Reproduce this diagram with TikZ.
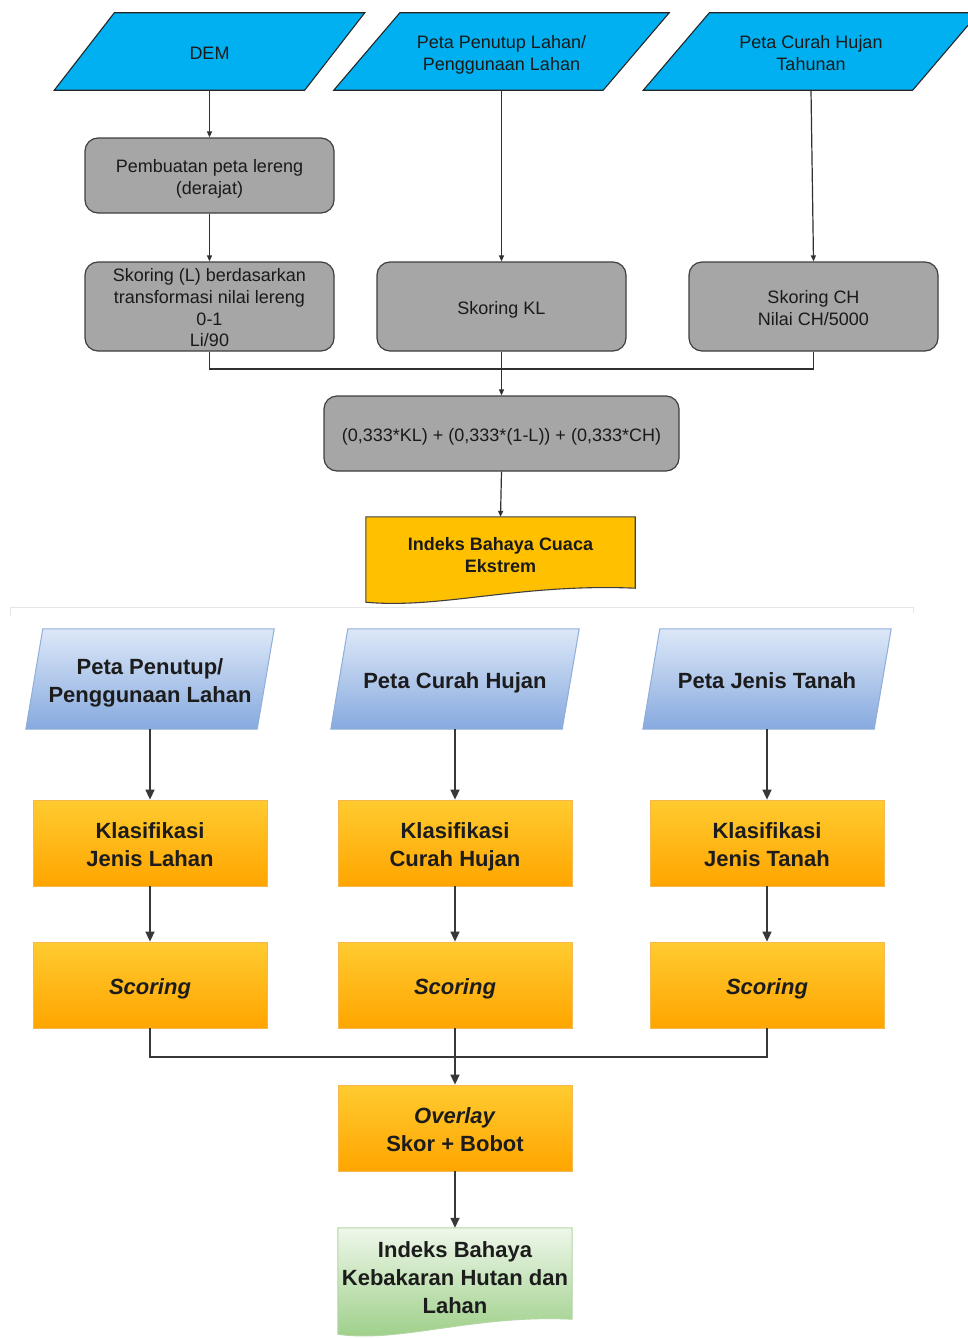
\documentclass[tikz,border=0pt]{standalone}
\usepackage{fontspec}
\setmainfont{Liberation Sans}
\usetikzlibrary{calc,arrows.meta,backgrounds}

% palette
\definecolor{inputcyan}{HTML}{00B0F0}
\definecolor{edgedark}{HTML}{262626}
\definecolor{procgray}{HTML}{A6A6A6}
\definecolor{procedge}{HTML}{3F3F3F}
\definecolor{outyellow}{HTML}{FFC000}
\definecolor{inktop}{HTML}{1A1A1A}
\definecolor{wiretop}{HTML}{303030}
\definecolor{bluetop}{HTML}{DDE8F8}
\definecolor{bluebot}{HTML}{86A9DE}
\definecolor{blueedge}{HTML}{8FAEDB}
\definecolor{orangetop}{HTML}{FFCB30}
\definecolor{orangebot}{HTML}{FFA500}
\definecolor{orangeedge}{HTML}{F5B84C}
\definecolor{greentop}{HTML}{EEF7EA}
\definecolor{greenbot}{HTML}{9ACD84}
\definecolor{greenedge}{HTML}{B3D6A4}
\definecolor{inkbot}{HTML}{1C1C1C}
\definecolor{wirebot}{HTML}{383838}

\newcommand\fsTop{\fontsize{18}{21.7}\selectfont}
\newcommand\fsBot{\fontsize{22}{28}\selectfont\bfseries}
% struts that give every label the ascent/descent of a full text line
\newcommand\firstln{\rule[-0.212em]{0pt}{1.277em}}
\newcommand\lastln{\rule[-0.212em]{0pt}{1.117em}}

\begin{document}
\begin{tikzpicture}[x=1pt,y=-1pt,
  every node/.style={inner sep=0pt, align=center},
  % upper flow
  tpara/.style={minimum height=77pt, font=\fsTop, text=inktop},
  tparashape/.style={fill=inputcyan, draw=edgedark, line width=1.1pt},
  gbox/.style={rectangle, rounded corners=13pt, fill=procgray, draw=procedge,
    line width=1.2pt, font=\fsTop, text=inktop},
  tdoc/.style={minimum width=269pt, minimum height=74pt, font=\fsTop\bfseries, text=inktop},
  tdocshape/.style={fill=outyellow, draw=procedge, line width=1.1pt},
  twire/.style={draw=wiretop, line width=1.2pt},
  tarrow/.style={twire, -{Triangle[length=6pt,width=5pt]}},
  % lower flow
  bpara/.style={minimum width=231pt, minimum height=100pt, font=\fsBot, text=inkbot},
  bparashape/.style={top color=bluetop, bottom color=bluebot, draw=blueedge, line width=1pt},
  obox/.style={rectangle, minimum width=234pt, minimum height=86pt,
    top color=orangetop, bottom color=orangebot, draw=orangeedge, line width=0.8pt,
    font=\fsBot, text=inkbot},
  bdoc/.style={minimum width=234pt, minimum height=97pt, font=\fsBot, text=inkbot},
  bdocshape/.style={top color=greentop, bottom color=greenbot, draw=greenedge, line width=1pt},
  bwire/.style={draw=wirebot, line width=1.5pt},
  barrow/.style={bwire, -{Triangle[length=10pt,width=9pt]}},
]
\useasboundingbox (0,0) rectangle (968,1338);

% ---------- upper flow: extreme weather hazard index ----------
\node[tpara, minimum width=250pt] (dem) at (209.5,51.5) {\firstln DEM\lastln};
\node[tpara, minimum width=269pt] (plc) at (501.5,51.5)
  {\firstln Peta Penutup Lahan/\\Penggunaan Lahan\lastln};
\node[tpara, minimum width=269pt] (chy) at (811,51.5) {\firstln Peta Curah Hujan\\Tahunan\lastln};

\node[gbox, minimum width=249pt, minimum height=75pt] (slope) at (209.5,175.5)
  {\firstln Pembuatan peta lereng\\(derajat)\lastln};
\node[gbox, minimum width=249pt, minimum height=89pt] (skl) at (209.5,306.5)
  {\firstln Skoring (L) berdasarkan\\transformasi nilai lereng\\0-1\\Li/90\lastln};
\node[gbox, minimum width=249pt, minimum height=89pt] (skkl) at (501.5,306.5)
  {\firstln Skoring KL\lastln};
\node[gbox, minimum width=249pt, minimum height=89pt] (skch) at (813.5,306.5)
  {\firstln Skoring CH\\Nilai CH/5000\lastln};
\coordinate (m1) at (501.5,369);
\node[gbox, minimum width=355pt, minimum height=75pt] (form) at (501.5,433.5)
  {\firstln (0,333*KL) + (0,333*(1-L)) + (0,333*CH)\lastln};
\node[tdoc] (ibc) at (500.5,554) {\firstln Indeks Bahaya Cuaca\\Ekstrem\lastln};

% ---------- lower flow: forest and land fire hazard index ----------
\node[bpara] (bp1) at (150,679) {\firstln Peta Penutup/\\Penggunaan Lahan\lastln};
\node[bpara] (bp2) at (455,679) {\firstln Peta Curah Hujan\lastln};
\node[bpara] (bp3) at (767,679) {\firstln Peta Jenis Tanah\lastln};

\node[obox] (k1) at (150,843) {\firstln Klasifikasi\\Jenis Lahan\lastln};
\node[obox] (k2) at (455,843) {\firstln Klasifikasi\\Curah Hujan\lastln};
\node[obox] (k3) at (767,843) {\firstln Klasifikasi\\Jenis Tanah\lastln};

\node[obox] (s1) at (150,985) {\firstln\itshape Scoring\lastln};
\node[obox] (s2) at (455,985) {\firstln\itshape Scoring\lastln};
\node[obox] (s3) at (767,985) {\firstln\itshape Scoring\lastln};
\coordinate (m2) at (455,1057);

\node[obox] (ov) at (455,1128) {\firstln\textit{Overlay}\\Skor + Bobot\lastln};
\node[bdoc] (ibk) at (455,1276.5) {\firstln Indeks Bahaya\\Kebakaran Hutan dan\\Lahan\lastln};

% ---------- shapes behind the labels ----------
\begin{pgfonlayer}{background}
  \fill[white] (0,0) rectangle (968,1338);
  % input parallelograms
  \foreach \n/\s in {dem/30, plc/33, chy/33}
    \draw[tparashape] ($(\n.north west)+(\s,0)$) -- ($(\n.north east)+(\s,0)$)
      -- ($(\n.south east)+(-\s,0)$) -- ($(\n.south west)+(-\s,0)$) -- cycle;
  \foreach \n in {bp1, bp2, bp3}
    \draw[bparashape] ($(\n.north west)+(8.5,0)$) -- ($(\n.north east)+(8.5,0)$)
      -- ($(\n.south east)+(-8.5,0)$) -- ($(\n.south west)+(-8.5,0)$) -- cycle;
  % output documents with wavy base
  \draw[tdocshape] (ibc.north west) -- (ibc.north east) -- ($(ibc.south east)+(0,-3)$)
    .. controls ($(ibc.south)+(20,-8)$) and ($(ibc.south)+(-60,18)$) .. ($(ibc.south west)+(0,11)$)
    -- cycle;
  \draw[bdocshape] (ibk.north west) -- (ibk.north east) -- ($(ibk.south east)+(0,-6)$)
    .. controls ($(ibk.south)+(20,-11)$) and ($(ibk.south)+(-55,18)$) .. ($(ibk.south west)+(0,9)$)
    -- cycle;
  % faint frame of the lower panel
  \draw[black!10, line width=0.8pt] (10,616) -- (10,607) -- (913,607) -- (913,613);
\end{pgfonlayer}

% ---------- connectors ----------
\draw[tarrow] (dem.south) -- (slope.north);
\draw[tarrow] (slope.south) -- (skl.north);
\draw[tarrow] (plc.south) -- (skkl.north);
\draw[tarrow] (chy.south) -- (skch.north);
\draw[twire] (skl.south) |- (m1) -| (skch.south);
\draw[tarrow] (skkl.south) -- (form.north);
\draw[tarrow] (form.south) -- (ibc.north);

\foreach \a/\b in {bp1/k1, bp2/k2, bp3/k3, k1/s1, k2/s2, k3/s3}
  \draw[barrow] (\a.south) -- (\b.north);
\draw[bwire] (s1.south) |- (m2) -| (s3.south);
\draw[barrow] (s2.south) -- (ov.north);
\draw[barrow] (ov.south) -- (ibk.north);
\end{tikzpicture}
\end{document}
